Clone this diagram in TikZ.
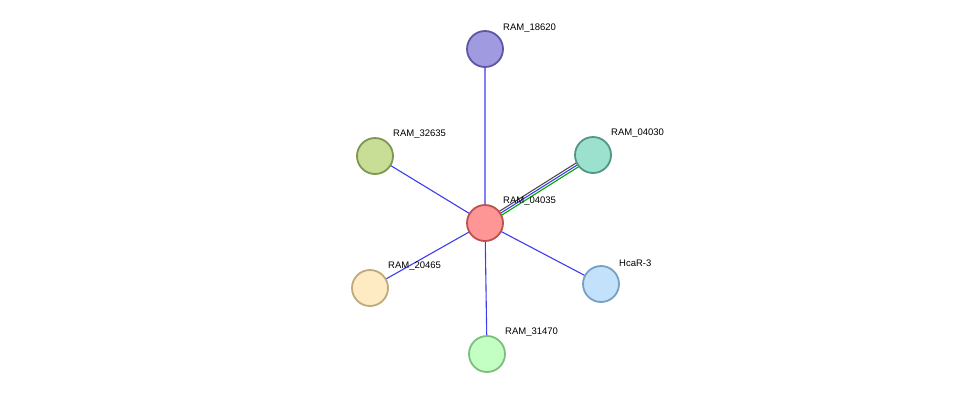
\documentclass[tikz,border=0pt]{standalone}
\usepackage{fontspec}
\setmainfont{Liberation Sans}
\definecolor{eblue}{RGB}{60,60,240}
\begin{document}
\begin{tikzpicture}[x=1pt,y=-1pt,
 prot/.style={circle,minimum size=36pt,inner sep=0pt,line width=1.8pt},
 lab/.style={anchor=west,font=\fontsize{9.5}{11}\selectfont,inner sep=0pt},
 e/.style={line width=1.1pt,eblue}]
\useasboundingbox (0,0) rectangle (976,400);
\coordinate (c) at (485,223);
\coordinate (p1) at (485.01,49);
\coordinate (p2) at (375,156);
\coordinate (p3) at (593,155);
\coordinate (p4) at (601,284);
\coordinate (p5) at (370,288);
\coordinate (p6) at (487,354);
\draw[e] (c) -- (p1);
\draw[e] (c) -- (p2);
\draw[e] (c) -- (p4);
\draw[e] (c) -- (p5);
\draw[e] (c) -- (p6);
\draw[line width=1.1pt,black!70,transform canvas={shift={(-1.2pt,1.9pt)}}] (c) -- (p3);
\draw[e] (c) -- (p3);
\draw[line width=1.1pt,green!65!black,transform canvas={shift={(1.2pt,-1.9pt)}}] (c) -- (p3);
\node[prot,draw={rgb,255:red,190;green,80;blue,80},fill={rgb,255:red,255;green,150;blue,150}] (n0) at (c) {};
\node[prot,draw={rgb,255:red,95;green,85;blue,165},fill={rgb,255:red,160;green,155;blue,225}] (n1) at (p1) {};
\node[prot,draw={rgb,255:red,125;green,150;blue,80},fill={rgb,255:red,200;green,222;blue,150}] (n2) at (p2) {};
\node[prot,draw={rgb,255:red,80;green,150;blue,130},fill={rgb,255:red,155;green,225;blue,205}] (n3) at (p3) {};
\node[prot,draw={rgb,255:red,120;green,160;blue,195},fill={rgb,255:red,195;green,225;blue,250}] (n4) at (p4) {};
\node[prot,draw={rgb,255:red,190;green,170;blue,125},fill={rgb,255:red,255;green,235;blue,195}] (n5) at (p5) {};
\node[prot,draw={rgb,255:red,125;green,190;blue,125},fill={rgb,255:red,195;green,255;blue,195}] (n6) at (p6) {};
\node[lab] (l0) at (503,201) {RAM\_04035};
\node[lab] (l1) at (503,28) {RAM\_18620};
\node[lab] (l2) at (393,134) {RAM\_32635};
\node[lab] (l3) at (611,133) {RAM\_04030};
\node[lab] (l4) at (619,263) {HcaR-3};
\node[lab] (l5) at (388,266) {RAM\_20465};
\node[lab] (l6) at (505,332) {RAM\_31470};
\end{tikzpicture}
\end{document}
